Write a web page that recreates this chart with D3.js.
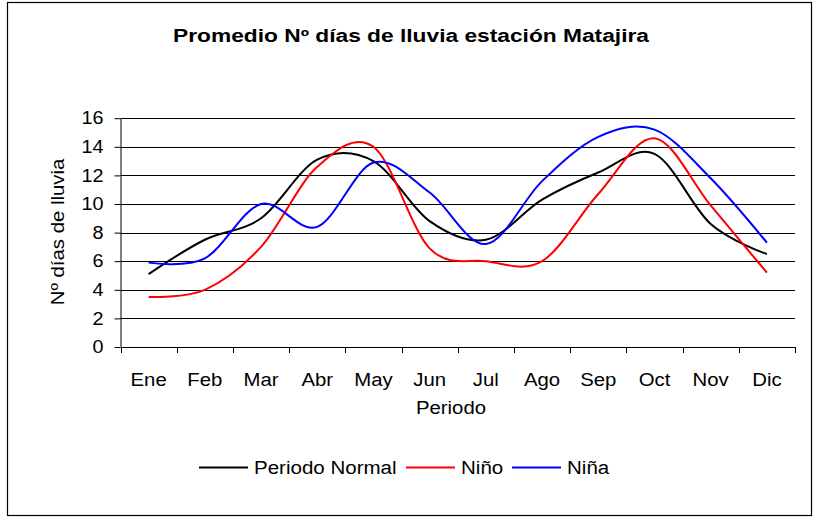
<!DOCTYPE html>
<html>
<head>
<meta charset="utf-8">
<script src="https://cdn.jsdelivr.net/npm/d3@7"></script>
<style>
  html, body { margin: 0; padding: 0; background: #fff; }
  svg { display: block; }
  text { font-family: "Liberation Sans", Arial, sans-serif; fill: #000; }
</style>
</head>
<body>
<svg id="chart" width="817" height="518"></svg>
<script>
// Monthly average number of rainy days, Matajira station
const months = ["Ene", "Feb", "Mar", "Abr", "May", "Jun", "Jul", "Ago", "Sep", "Oct", "Nov", "Dic"];
const normal = [5.1, 7.5, 9.0, 13.1, 13.0, 8.8, 7.5, 10.3, 12.2, 13.5, 8.6, 6.5];
const nino   = [3.5, 4.0, 7.0, 12.6, 14.0, 6.9, 6.0, 6.0, 10.7, 14.6, 9.9, 5.2];
const nina   = [5.9, 6.2, 10.0, 8.4, 12.9, 10.8, 7.2, 11.6, 14.7, 15.2, 11.8, 7.3];
const yTicks = [0, 2, 4, 6, 8, 10, 12, 14, 16];

const seriesNames = ["Periodo Normal", "Niño", "Niña"];
const seriesColors = ["#000000", "#ff0000", "#0000ff"];
const seriesValues = [normal, nino, nina];

const svg = d3.select("#chart");

// widen glyphs horizontally (wide chart text look)
function widen(sel, factor) {
  sel.each(function () {
    const w = this.getComputedTextLength();
    d3.select(this).attr("textLength", w * factor).attr("lengthAdjust", "spacingAndGlyphs");
  });
}

// outer frame
svg.append("rect")
  .attr("x", 7.5).attr("y", 2.5)
  .attr("width", 804).attr("height", 513)
  .attr("fill", "#fff").attr("stroke", "#000").attr("stroke-width", 1.2);

const plot = { left: 120.5, right: 795, top: 118.2, bottom: 347 };

const x = d3.scaleBand().domain(months).range([plot.left, plot.right]).padding(0);
const y = d3.scaleLinear().domain([0, 16]).range([plot.bottom, plot.top]);
const cx = m => x(m) + x.bandwidth() / 2;

// horizontal gridlines
svg.append("g")
  .selectAll("line")
  .data(yTicks.filter(t => t > 0))
  .join("line")
  .attr("x1", plot.left).attr("x2", plot.right)
  .attr("y1", d => Math.round(y(d)) + 0.5).attr("y2", d => Math.round(y(d)) + 0.5)
  .attr("stroke", "#000").attr("stroke-width", 1);

// y axis
const yAxis = svg.append("g")
  .attr("transform", `translate(${plot.left},0)`)
  .call(d3.axisLeft(y).tickValues(yTicks).tickSize(6).tickPadding(11).tickSizeOuter(0));
yAxis.select(".domain").attr("stroke", "#000");
yAxis.selectAll(".tick line").attr("stroke", "#000");
yAxis.selectAll("text").attr("font-size", 18).attr("font-family", "Liberation Sans, Arial, sans-serif");
widen(yAxis.selectAll("text"), 1.1);

// x axis with tick marks at category boundaries
const xAxis = svg.append("g")
  .attr("transform", `translate(0,${plot.bottom})`)
  .call(d3.axisBottom(x).tickSize(0).tickPadding(26).tickSizeOuter(0));
xAxis.select(".domain").attr("stroke", "#000");
xAxis.selectAll("text").attr("font-size", 18).attr("font-family", "Liberation Sans, Arial, sans-serif");
widen(xAxis.selectAll("text"), 1.13);
const boundaries = months.map(m => x(m)).concat([plot.right]);
svg.append("g")
  .selectAll("line")
  .data(boundaries)
  .join("line")
  .attr("x1", d => Math.round(d) + 0.5).attr("x2", d => Math.round(d) + 0.5)
  .attr("y1", plot.bottom).attr("y2", plot.bottom + 6)
  .attr("stroke", "#000");

// smoothed series lines
const line = d3.line()
  .x((d, i) => cx(months[i]))
  .y(d => y(d))
  .curve(d3.curveCardinal.tension(0));

svg.append("g")
  .selectAll("path")
  .data(seriesValues)
  .join("path")
  .attr("d", d => line(d))
  .attr("fill", "none")
  .attr("stroke", (d, i) => seriesColors[i])
  .attr("stroke-width", 2)
  .attr("stroke-linejoin", "round");

// title
svg.append("text")
  .attr("x", 411).attr("y", 42)
  .attr("text-anchor", "middle")
  .attr("font-size", 18).attr("font-weight", "bold")
  .attr("textLength", 476).attr("lengthAdjust", "spacingAndGlyphs")
  .text("Promedio Nº días de lluvia estación Matajira");

// axis titles
const yTitle = svg.append("text")
  .attr("transform", "translate(64,232) rotate(-90)")
  .attr("text-anchor", "middle")
  .attr("font-size", 18)
  .text("Nº días de lluvia");
widen(yTitle, 1.13);

const xTitle = svg.append("text")
  .attr("x", 451).attr("y", 414)
  .attr("text-anchor", "middle")
  .attr("font-size", 18)
  .text("Periodo");
widen(xTitle, 1.13);

// legend
const legendItems = [
  { x: 199, textX: 254 },
  { x: 406, textX: 461 },
  { x: 512, textX: 567 }
];
const legend = svg.append("g");
legendItems.forEach((it, i) => {
  legend.append("line")
    .attr("x1", it.x).attr("x2", it.x + 49)
    .attr("y1", 467.5).attr("y2", 467.5)
    .attr("stroke", seriesColors[i]).attr("stroke-width", 2);
  const t = legend.append("text")
    .attr("x", it.textX).attr("y", 474)
    .attr("font-size", 18)
    .text(seriesNames[i]);
  widen(t, 1.14);
});
</script>
</body>
</html>
